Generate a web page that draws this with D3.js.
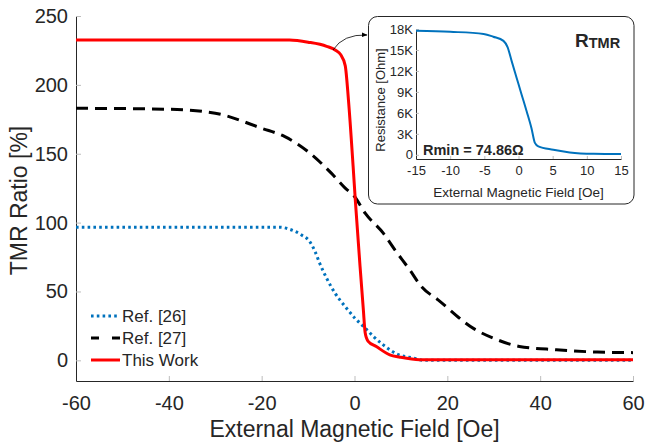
<!DOCTYPE html>
<html>
<head>
<meta charset="utf-8">
<script src="https://cdn.jsdelivr.net/npm/d3@7"></script>
<style>
  body { margin: 0; background: #fff; }
  text { font-family: "Liberation Sans", Arial, sans-serif; fill: #262626; }
</style>
</head>
<body>
<div id="chart"></div>
<script>
// main chart data
const fieldRef26 = [-60, -16, -14, -11.4, -9.6, -8.5, -7.5, -6, -4.2, -2, 0.1, 2.3, 4.1, 6.2, 9.1, 12.7, 15, 60]
const tmrRef26 = [96.6, 96.6, 95.2, 91, 86, 79, 70.5, 59.6, 48.8, 39, 30.6, 23.4, 17.3, 11.2, 4.7, 1.6, 0, 0]

const fieldRef27 = [-60, -40, -30, -20, -15, -10, -5, -2, 0, 2.3, 6.2, 8.7, 11.9, 14.4, 18, 25.7, 30.2, 35.5, 43.5, 52.3, 60]
const tmrRef27 = [183, 182.3, 179.4, 168.5, 162.4, 151.5, 135.9, 125, 119, 106.8, 92.3, 80.2, 65.7, 53.6, 43.9, 23, 15.7, 10.1, 7.7, 6, 5.6]

const fieldWork = [-60, -14, -10, -6, -4, -3, -2, -1.3, -0.3, 0.2, 1.2, 1.9, 2.3, 2.9, 4.7, 7.6, 9.8, 14, 60]
const tmrWork = [232.5, 232.5, 231, 228, 225, 222, 214, 189, 141, 115, 68, 37, 20, 14, 10, 4, 2.3, 0.4, 0.4]

const xTicks = [-60, -40, -20, 0, 20, 40, 60]
const yTicks = [0, 50, 100, 150, 200, 250]

// inset data (resistance in ohm)
const insetField = [-15, -10, -5.1, -3.7, -2.2, -1.6, -1, -0.27, 0.46, 1.2, 1.9, 2.4, 2.9, 5.1, 7.5, 11, 15]
const insetRes = [17760, 17600, 17300, 16900, 16300, 15400, 13400, 11000, 8600, 6200, 3800, 1700, 1200, 720, 340, 140, 100]
const insetXTicks = [-15, -10, -5, 0, 5, 10, 15]
const insetYTicks = [0, 3000, 6000, 9000, 12000, 15000, 18000]

const seriesNames = ["Ref. [26]", "Ref. [27]", "This Work"]

const width = 646, height = 443
const svg = d3.select("#chart").append("svg")
  .attr("width", width)
  .attr("height", height)

// scales
const x = d3.scaleLinear().domain([-60, 60]).range([76, 633])
const y = d3.scaleLinear().domain([-15, 250]).range([381, 16])

// axes (plain hyphen minus like the original)
const xAxis = svg.append("g")
  .attr("transform", `translate(0,${y(-15)})`)
  .call(d3.axisBottom(x).tickValues(xTicks).tickSize(-5).tickPadding(15).tickSizeOuter(0)
    .tickFormat(d => String(d)))
const yAxis = svg.append("g")
  .attr("transform", `translate(${x(-60)},0)`)
  .call(d3.axisLeft(y).tickValues(yTicks).tickSize(-5).tickPadding(8).tickSizeOuter(0))

;[xAxis, yAxis].forEach(g => {
  g.select(".domain").attr("stroke", "#262626").attr("stroke-width", 1)
  g.selectAll(".tick line").attr("stroke", "#bdbdbd")
  g.selectAll(".tick text").attr("font-size", 20).attr("fill", "#262626")
    .style("font-family", "'Liberation Sans', Arial, sans-serif")
})

svg.append("text")
  .attr("x", (x(-60) + x(60)) / 2)
  .attr("y", 437)
  .attr("text-anchor", "middle")
  .attr("font-size", 23)
  .text("External Magnetic Field [Oe]")

svg.append("text")
  .attr("transform", `translate(27,${(y(-15) + y(250)) / 2 + 2}) rotate(-90)`)
  .attr("text-anchor", "middle")
  .attr("font-size", 23)
  .text("TMR Ratio [%]")

// lines
const line = d3.line().x(d => x(d[0])).y(d => y(d[1])).curve(d3.curveMonotoneX)

const series = [
  {name: seriesNames[0], xs: fieldRef26, ys: tmrRef26, color: "#0072BD", width: 3, dash: "2.6,3.2"},
  {name: seriesNames[1], xs: fieldRef27, ys: tmrRef27, color: "#000000", width: 3, dash: "12,7"},
  {name: seriesNames[2], xs: fieldWork, ys: tmrWork, color: "#FF0000", width: 3, dash: null},
]

series.forEach(s => {
  svg.append("path")
    .datum(d3.zip(s.xs, s.ys))
    .attr("fill", "none")
    .attr("stroke", s.color)
    .attr("stroke-width", s.width)
    .attr("stroke-dasharray", s.dash)
    .attr("d", line)
})

// legend
const legend = svg.append("g")
series.forEach((s, i) => {
  const ly = 316 + i * 22
  legend.append("line")
    .attr("x1", 91).attr("x2", 120).attr("y1", ly).attr("y2", ly)
    .attr("stroke", s.color)
    .attr("stroke-width", s.width)
    .attr("stroke-dasharray", s.dash ? (i === 1 ? "8,13" : s.dash) : null)
  legend.append("text")
    .attr("x", 122).attr("y", ly + 6)
    .attr("font-size", 17)
    .text(s.name)
})

// arrow to inset
svg.append("defs").append("marker")
  .attr("id", "arrowhead")
  .attr("viewBox", "0 0 10 10")
  .attr("refX", 9).attr("refY", 5)
  .attr("markerWidth", 7).attr("markerHeight", 7)
  .attr("orient", "auto")
  .append("path").attr("d", "M0,1 L10,5 L0,9 Z").attr("fill", "#000")

svg.append("path")
  .attr("d", "M333,50 Q343,34 367,35")
  .attr("fill", "none")
  .attr("stroke", "#000")
  .attr("stroke-width", 0.8)
  .attr("marker-end", "url(#arrowhead)")

// inset
svg.append("rect")
  .attr("x", 368.5).attr("y", 16.5)
  .attr("width", 265.5).attr("height", 187.5)
  .attr("rx", 9)
  .attr("fill", "#fff")
  .attr("stroke", "#262626")
  .attr("stroke-width", 1)

const ix = d3.scaleLinear().domain([-15, 15]).range([416, 621])
const iy = d3.scaleLinear().domain([-600, 18000]).range([159, 29])

const ixAxis = svg.append("g")
  .attr("transform", `translate(0,${iy(-600)})`)
  .call(d3.axisBottom(ix).tickValues(insetXTicks).tickSize(-3).tickPadding(7).tickSizeOuter(0)
    .tickFormat(d => String(d)))
const iyAxis = svg.append("g")
  .attr("transform", `translate(${ix(-15)},0)`)
  .call(d3.axisLeft(iy).tickValues(insetYTicks).tickSize(-3).tickPadding(3).tickSizeOuter(0)
    .tickFormat(d => d === 0 ? "0" : (d / 1000) + "K"))

;[ixAxis, iyAxis].forEach(g => {
  g.select(".domain").attr("stroke", "#262626").attr("stroke-width", 1)
  g.selectAll(".tick line").attr("stroke", "#bdbdbd")
  g.selectAll(".tick text").attr("font-size", 13).attr("fill", "#262626")
    .style("font-family", "'Liberation Sans', Arial, sans-serif")
})

svg.append("path")
  .datum(d3.zip(insetField, insetRes))
  .attr("fill", "none")
  .attr("stroke", "#0072BD")
  .attr("stroke-width", 2)
  .attr("d", d3.line().x(d => ix(d[0])).y(d => iy(d[1])).curve(d3.curveMonotoneX))

svg.append("text")
  .attr("x", (ix(-15) + ix(15)) / 2)
  .attr("y", 197)
  .attr("text-anchor", "middle")
  .attr("font-size", 13.5)
  .text("External Magnetic Field [Oe]")

svg.append("text")
  .attr("transform", `translate(385,${(iy(-600) + iy(18000)) / 2 + 6}) rotate(-90)`)
  .attr("text-anchor", "middle")
  .attr("font-size", 13)
  .text("Resistance [Ohm]")

const rTitle = svg.append("text")
  .attr("x", 575).attr("y", 46.5)
  .attr("font-size", 19)
  .attr("font-weight", "bold")
  .attr("fill", "#000")
rTitle.append("tspan").text("R")
rTitle.append("tspan").attr("font-size", 14.5).attr("dy", 1.8).text("TMR")

svg.append("text")
  .attr("x", 423).attr("y", 155)
  .attr("font-size", 14.5)
  .attr("font-weight", "bold")
  .attr("fill", "#000")
  .text("Rmin = 74.86Ω")
</script>
</body>
</html>
